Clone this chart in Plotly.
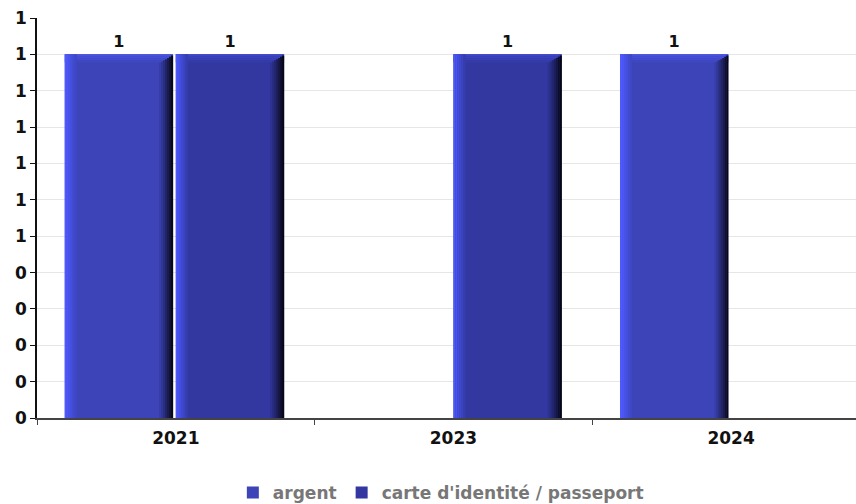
import plotly.graph_objects as go

years = ["2021", "2023", "2024"]
argent = [1, None, 1]
carte = [1, 1, None]
y_tick_vals = [0, 0.1, 0.2, 0.3, 0.4, 0.5, 0.6, 0.7, 0.8, 0.9, 1.0, 1.1]
y_tick_text = ["0", "0", "0", "0", "0", "1", "1", "1", "1", "1", "1", "1"]

font_family = "DejaVu Sans"

# ---- styling constants (not data) ----
PX_PER_CAT = 277.6          # pixels per category unit
PX_PER_Y = 400 / 1.1        # pixels per y unit
BAR_W = 0.39
series_style = [
    # name, values, offset, face colour, left highlight, right shadow, top bevel
    ("argent", argent, -0.40, (60, 68, 184), (78, 90, 255), (8, 8, 24), (72, 82, 225)),
    ("carte d'identité / passeport", carte, 0.0, (50, 56, 160), (76, 88, 250), (6, 6, 20), (62, 70, 200)),
]


def mix(c1, c2, t):
    return "rgb(%d,%d,%d)" % tuple(round(a + (b - a) * t) for a, b in zip(c1, c2))


fig = go.Figure()
strip = 2 / PX_PER_CAT
for name, vals, off, face, hi, sh, top in series_style:
    face_css = mix(face, face, 0)
    # main bar
    fig.add_trace(go.Bar(
        name=name, x=years, y=vals, offset=off, width=BAR_W,
        marker=dict(color=face_css, line=dict(width=0)),
        text=["1" if v is not None else "" for v in vals],
        textposition="outside", cliponaxis=False,
        textfont=dict(family=font_family, size=16, color="#111", weight="bold"),
        hoverinfo="x+y+name",
    ))
    # top bevel
    n_top = 4
    dy = 2 / PX_PER_Y
    for i in range(n_top):
        fig.add_trace(go.Bar(
            x=years, y=[dy if v is not None else None for v in vals],
            base=[v - dy * (i + 1) if v is not None else 0 for v in vals],
            offset=off, width=BAR_W, showlegend=False, hoverinfo="skip",
            marker=dict(color=mix(top, face, i / n_top), line=dict(width=0)),
        ))
    # left highlight gradient
    n_left = 6
    for i in range(n_left):
        fig.add_trace(go.Bar(
            x=years, y=vals, offset=off + i * strip, width=strip * 1.05,
            showlegend=False, hoverinfo="skip",
            marker=dict(color=mix(hi, face, i / n_left), line=dict(width=0)),
        ))
    # right shadow gradient
    n_right = 7
    for i in range(n_right):
        fig.add_trace(go.Bar(
            x=years, y=[v - (n_right - i) * 1.2 / PX_PER_Y if v is not None else None for v in vals],
            offset=off + BAR_W - (n_right - i) * strip, width=strip * 1.05,
            showlegend=False, hoverinfo="skip",
            marker=dict(color=mix(face, sh, ((i + 1) / n_right) ** 1.2), line=dict(width=0)),
        ))

fig.update_layout(
    width=856, height=504,
    margin=dict(l=37, r=0, t=18, b=86),
    paper_bgcolor="white", plot_bgcolor="white",
    barmode="overlay",
    font=dict(family=font_family),
    showlegend=True,
    legend=dict(
        orientation="h", x=0.515, xanchor="center", xref="container",
        y=11 / 504, yanchor="middle", yref="container",
        font=dict(family=font_family, size=17, color="#777777", weight="bold"),
        itemwidth=30, traceorder="normal",
    ),
)
fig.update_xaxes(
    type="category", range=[-0.5, 2.45], automargin=False,
    showline=True, linecolor="#444444", linewidth=1.5,
    ticks="outside", tickson="boundaries", ticklen=5, tickcolor="#444444",
    ticklabelstandoff=4,
    tickfont=dict(family=font_family, size=17, color="#111", weight="bold"),
    showgrid=False,
)
fig.update_yaxes(
    range=[0, 1.1], tickvals=y_tick_vals, ticktext=y_tick_text, automargin=False,
    ticklabeloverflow="allow",
    showline=True, linecolor="#111", linewidth=1.5,
    ticks="outside", ticklen=5, tickcolor="#111",
    tickfont=dict(family=font_family, size=17, color="#111", weight="bold"),
    showgrid=True, gridcolor="#e6e6e6", gridwidth=1,
    zeroline=False,
)

fig.write_html(
    "out.html",
    config={"displayModeBar": False},
    post_script=(
        "var s=document.documentElement.style, b=document.body.style;"
        "s.margin='0';s.padding='0';s.height='504px';s.overflow='hidden';"
        "b.margin='0';b.padding='0';b.height='504px';b.overflow='hidden';"
    ),
)
